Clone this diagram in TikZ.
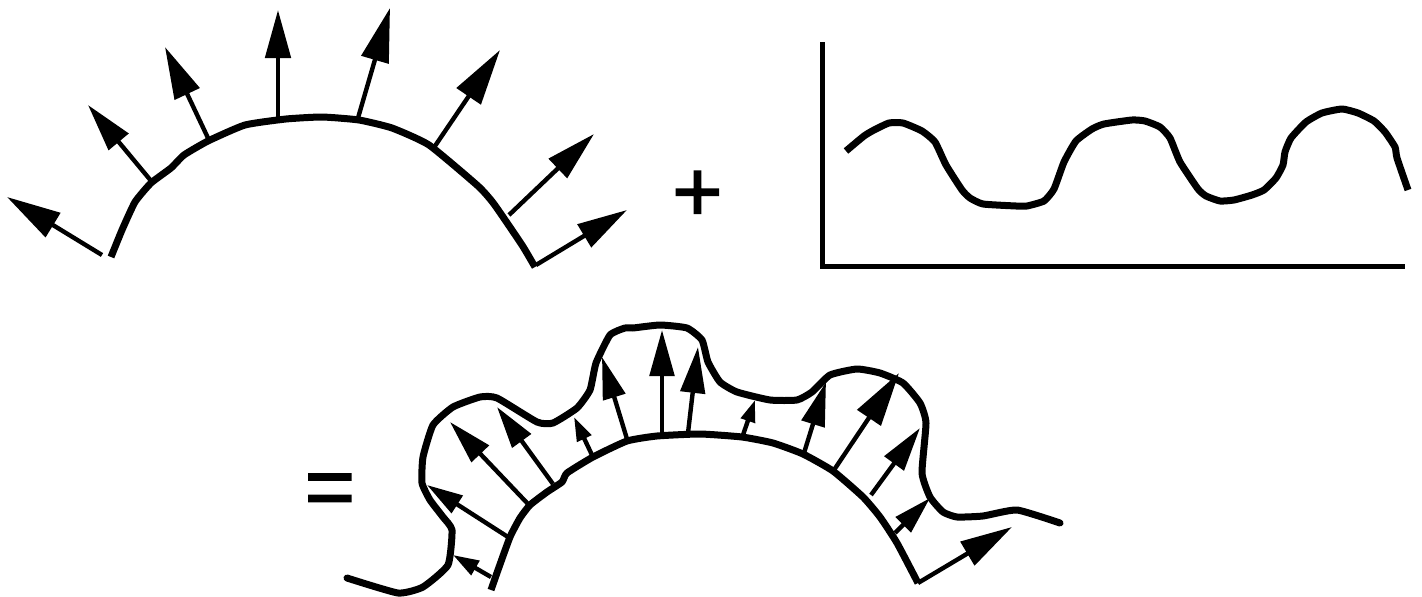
\documentclass[tikz,border=0pt]{standalone}
\usepackage{fontspec}
\setmainfont{Liberation Sans}
\newfontfamily\signfont[FakeBold=2]{Liberation Sans}
\usetikzlibrary{arrows.meta}
\tikzset{
    curve/.style={line width=7pt, line join=round},
    vec/.style={line width=4.4pt, -{Triangle[length=#1pt, width=0.42*#1pt+5pt]}},
    sign/.style={inner sep=0pt, font=\signfont\fontsize{86}{86}\selectfont}
}
\begin{document}
\begin{tikzpicture}[x=1pt, y=-1pt]
    \useasboundingbox (0, 0) rectangle (1422, 597);

    % upper arc
    \draw[curve] plot[smooth, tension=0.3] coordinates {(111, 257) (122, 230) (135, 202) (151, 183) (171, 168) (184, 155)
        (208, 141) (245, 125) (286, 119) (322, 117) (359, 120) (392, 128) (429, 145) (478, 186) (494, 204) (522, 245) (535, 267)};

    % upper arrows
    \draw[vec=54] (102, 255) -- (7, 197);
    \draw[vec=48] (152, 182) -- (88, 105);
    \draw[vec=52] (208, 138) -- (165, 47);
    \draw[vec=48] (278, 117) -- (278, 10);
    \draw[vec=54] (358, 118) -- (390, 8);
    \draw[vec=56] (435, 146) -- (500, 50);
    \draw[vec=50] (509, 215) -- (594, 134);
    \draw[vec=50] (536, 265) -- (627, 210);

    % plus sign
    \node[sign] (plus) at (697.5, 196) {+};

    % axes
    \draw[line width=5pt, line join=miter] (822, 42) -- (822, 266) -- (1405, 266);

    % wave
    \draw[curve] plot[smooth, tension=0.3] coordinates {(846, 151) (864, 136) (874, 130) (889, 123) (903, 123) (922, 131)
        (935, 142) (946, 165) (962, 190) (970, 198) (983, 204) (1016, 206) (1027, 206) (1044, 201) (1054, 189) (1064, 162)
        (1076, 141) (1092, 129) (1104, 124) (1132, 120) (1145, 121) (1160, 127) (1170, 138) (1180, 162) (1198, 189)
        (1206, 196) (1220, 201) (1234, 200) (1252, 195) (1264, 190) (1276, 178) (1283, 165) (1285, 152) (1291, 138)
        (1306, 122) (1322, 113) (1342, 109) (1358, 113) (1374, 121) (1385, 132) (1395, 147) (1397, 158) (1408, 190)};

    % equals sign
    \node[sign] (equals) at (330, 495) {=};

    % lower arc
    \draw[curve] plot[smooth, tension=0.3] coordinates {(491, 590) (498, 570) (510, 537) (520, 518) (530, 505) (547, 492)
        (562, 482) (567, 473) (593, 457) (627, 441) (657, 436) (700, 434) (742, 437) (773, 443) (803, 454) (833, 471)
        (863, 497) (880, 517) (897, 543) (918, 583)};

    % lower arrows
    \draw[vec=26] (491, 577) -- (453, 555);
    \draw[vec=36] (508, 537) -- (427, 485);
    \draw[vec=44] (529, 505) -- (450, 422);
    \draw[vec=42] (553, 484) -- (497, 407);
    \draw[vec=24] (592, 455) -- (574, 417);
    \draw[vec=42] (627, 439) -- (602, 357);
    \draw[vec=46] (662, 434) -- (662, 330);
    \draw[vec=46] (688, 433) -- (698, 347);
    \draw[vec=22] (743, 435) -- (755, 400);
    \draw[vec=44] (804, 453) -- (826, 382);
    \draw[vec=54] (834, 470) -- (899, 373);
    \draw[vec=44] (871, 495) -- (920, 428);
    \draw[vec=38] (895, 533) -- (930, 498);
    \draw[vec=52] (918, 583) -- (1012, 527);

    % summed wave
    \draw[curve, line cap=round] plot[smooth, tension=0.3] coordinates {(347, 578) (398, 593) (423, 587) (448, 565) (452, 530)
        (443, 517) (430, 500) (422, 483) (423, 457) (433, 425) (453, 407) (480, 397) (497, 398) (537, 422) (553, 423)
        (577, 408) (590, 390) (596, 363) (610, 335) (625, 328) (633, 328) (660, 325) (687, 328) (702, 340) (708, 362)
        (720, 382) (737, 392) (770, 400) (797, 400) (812, 392) (830, 375) (857, 369) (880, 373) (903, 383) (920, 403)
        (926, 423) (922, 473) (930, 497) (943, 512) (957, 517) (983, 516) (1017, 510) (1060, 523)};
\end{tikzpicture}
\end{document}
